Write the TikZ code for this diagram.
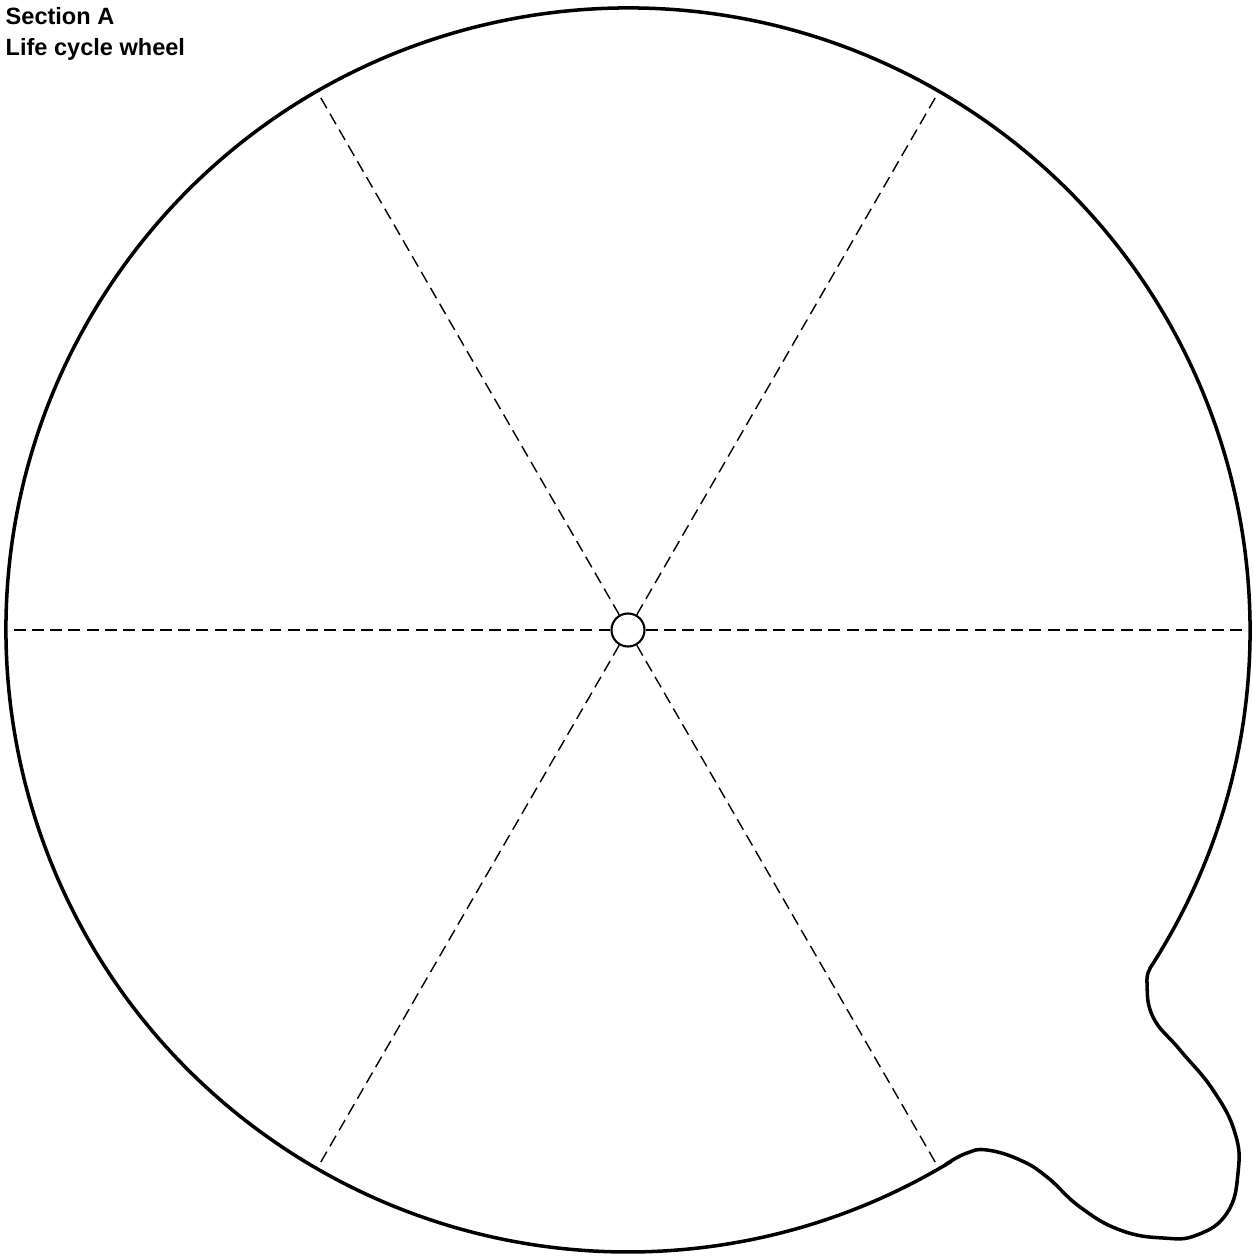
\documentclass[tikz,border=0pt]{standalone}
\usepackage{fontspec}
\setmainfont{Liberation Sans}
\usetikzlibrary{calc}
\begin{document}
\begin{tikzpicture}[rim/.style={line width=1pt}, spoke/.style={line width=0.4pt, dash pattern=on 3.4pt off 1.8pt},
  hub/.style={circle, draw, line width=0.6pt, minimum size=0.33cm, inner sep=0pt, fill=white}]
  \useasboundingbox (0,0) rectangle (12.53,12.58);
  \coordinate (c) at (6.28,6.28);
  % outline of the wheel with its tab
  \draw[rim] (c) ++(-33:6.22) arc[start angle=-33, end angle=301, radius=6.22]
    -- plot[smooth, tension=0.75] coordinates {(9.48,0.95) (9.67,1.05) (9.87,1.08) (10.20,0.98) (10.47,0.81) (10.80,0.51)
      (11.20,0.28) (11.63,0.20) (11.97,0.23) (12.27,0.45) (12.38,0.85) (12.35,1.25) (12.13,1.68) (11.80,2.08)
      (11.53,2.41) (11.47,2.75) (11.50,2.89)};
  \node[hub] (pin) at (c) {};
  \foreach \a in {0,60,...,300} \draw[spoke] (pin.\a) -- ($(c)+(\a:6.17)$);
  \node[anchor=north west, inner sep=0pt, align=left, font=\fontsize{6.7}{8.8}\selectfont\bfseries] (title) at (0.05,12.51)
    {Section A\\Life cycle wheel};
\end{tikzpicture}
\end{document}
